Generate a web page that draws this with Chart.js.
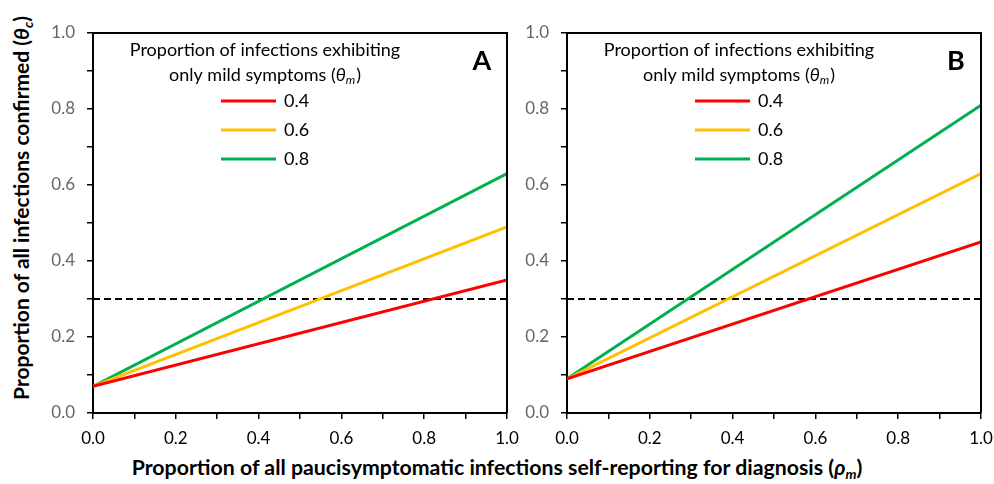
<!DOCTYPE html>
<html>
<head>
<meta charset="utf-8">
<script src="https://cdn.jsdelivr.net/npm/chart.js@4"></script>
<style>
  html, body { margin:0; padding:0; background:#fff; }
  body { width:994px; height:484px; position:relative; overflow:hidden; font-family:Lato, "Open Sans", sans-serif; }
  canvas { position:absolute; top:0; }
  #ytitle { position:absolute; left:22px; top:208px; transform:translate(-50%,-50%) rotate(-90deg); white-space:nowrap; font-weight:bold; font-size:21px; color:#000; }
  #xtitle { position:absolute; left:497px; top:468px; transform:translate(-50%,-50%); white-space:nowrap; font-weight:bold; font-size:21.3px; color:#000; }
  sub { font-size:65%; vertical-align:-0.3em; }
</style>
</head>
<body>
<canvas id="cA" width="480" height="450" style="left:40px"></canvas>
<canvas id="cB" width="480" height="450" style="left:514px"></canvas>
<div id="ytitle">Proportion of all infections confirmed (<i>θ<sub>c</sub></i>)</div>
<div id="xtitle">Proportion of all paucisymptomatic infections self-reporting for diagnosis (<i>ρ<sub>m</sub></i>)</div>
<script>
// ---- data ----
const rho = [0, 1];                       // x values (proportion self-reporting)
const thetaMLabels = ['0.4', '0.6', '0.8'];
const panelA_04 = [0.07, 0.35];
const panelA_06 = [0.07, 0.49];
const panelA_08 = [0.07, 0.63];
const panelB_04 = [0.09, 0.45];
const panelB_06 = [0.09, 0.63];
const panelB_08 = [0.09, 0.81];
const threshold = [0.3, 0.3];
const panelLetters = ['A', 'B'];
const seriesColors = ['#FF0000', '#FFC000', '#00B050'];

const FONT = 'Lato, "Open Sans", sans-serif';

function pts(ys) { return rho.map((x, i) => ({ x: x, y: ys[i] })); }

const boxAndLegend = {
  id: 'boxAndLegend',
  afterDatasetsDraw(chart) {
    const ctx = chart.ctx;
    const a = chart.chartArea;
    ctx.save();
    // top and right border
    ctx.strokeStyle = '#000';
    ctx.lineWidth = 2;
    ctx.beginPath();
    ctx.moveTo(a.left, a.top);
    ctx.lineTo(a.right, a.top);
    ctx.lineTo(a.right, a.bottom);
    ctx.stroke();

    // legend title
    const cx = 225;
    ctx.fillStyle = '#000';
    ctx.textBaseline = 'middle';
    ctx.textAlign = 'center';
    ctx.font = '18px ' + FONT;
    ctx.fillText('Proportion of infections exhibiting', cx, 50);
    const p1 = 'only mild symptoms (';
    const p3 = ')';
    ctx.font = '18px ' + FONT;
    const w1 = ctx.measureText(p1).width;
    const w3 = ctx.measureText(p3).width;
    ctx.font = 'italic 18px ' + FONT;
    const w2 = ctx.measureText('θ').width;
    ctx.font = 'italic 12px ' + FONT;
    const w2s = ctx.measureText('m').width;
    const total = w1 + w2 + w2s + w3 + 1;
    let x = cx - total / 2;
    ctx.textAlign = 'left';
    ctx.font = '18px ' + FONT;
    ctx.fillText(p1, x, 75); x += w1;
    ctx.font = 'italic 18px ' + FONT;
    ctx.fillText('θ', x, 75); x += w2;
    ctx.font = 'italic 12px ' + FONT;
    ctx.fillText('m', x, 80); x += w2s + 1;
    ctx.font = '18px ' + FONT;
    ctx.fillText(p3, x, 75);

    // legend entries
    const rows = [101, 130, 159];
    chart.data.datasets.forEach((ds, i) => {
      if (i > 2) return;
      ctx.strokeStyle = ds.borderColor;
      ctx.lineWidth = 3;
      ctx.beginPath();
      ctx.moveTo(181, rows[i]);
      ctx.lineTo(236, rows[i]);
      ctx.stroke();
      ctx.fillStyle = '#000';
      ctx.font = '18px ' + FONT;
      ctx.textAlign = 'left';
      ctx.fillText(ds.label, 244, rows[i]);
    });

    // panel letter
    ctx.font = 'bold 27px ' + FONT;
    ctx.textAlign = 'center';
    ctx.fillStyle = '#000';
    ctx.fillText(chart.options.plugins.panelLetter, 442, 61);
    ctx.restore();
  }
};

function makeChart(id, letter, s04, s06, s08) {
  const series = [s04, s06, s08];
  const datasets = series.map((s, i) => ({
    label: thetaMLabels[i],
    data: pts(s),
    borderColor: seriesColors[i],
    backgroundColor: seriesColors[i],
    borderWidth: 3,
    pointRadius: 0,
    fill: false,
    tension: 0
  }));
  datasets.push({
    label: 'threshold',
    data: pts(threshold),
    borderColor: '#000',
    borderWidth: 1.8,
    borderDash: [7, 4],
    pointRadius: 0,
    fill: false,
    order: 10
  });
  return new Chart(document.getElementById(id), {
    type: 'line',
    data: { datasets: datasets },
    options: {
      responsive: false,
      animation: false,
      layout: { padding: { top: 33, right: 13, left: 0, bottom: 0 } },
      plugins: { legend: { display: false }, tooltip: { enabled: false }, panelLetter: letter },
      scales: {
        x: {
          type: 'linear', min: 0, max: 1,
          border: { display: true, color: '#000', width: 2 },
          grid: { drawOnChartArea: false, drawTicks: true, tickLength: 6, color: '#000', lineWidth: 1.5 },
          ticks: {
            stepSize: 0.1, color: '#000', padding: 9, maxRotation: 0,
            font: { family: FONT, size: 17 },
            callback: v => (Math.round(v * 10) % 2 === 0 ? v.toFixed(1) : '')
          },
          afterFit: s => { s.height = 37; s.paddingLeft = 0; s.paddingRight = 0; }
        },
        y: {
          type: 'linear', min: 0, max: 1,
          border: { display: true, color: '#000', width: 2 },
          grid: { drawOnChartArea: false, drawTicks: true, tickLength: 6, color: '#000', lineWidth: 1.5 },
          ticks: {
            stepSize: 0.1, color: '#666666', padding: 12,
            font: { family: FONT, size: 17 },
            callback: v => (Math.round(v * 10) % 2 === 0 ? v.toFixed(1) : '')
          },
          afterFit: s => { s.width = 53; s.paddingTop = 0; s.paddingBottom = 0; }
        }
      }
    },
    plugins: [boxAndLegend]
  });
}

makeChart('cA', panelLetters[0], panelA_04, panelA_06, panelA_08);
makeChart('cB', panelLetters[1], panelB_04, panelB_06, panelB_08);
</script>
</body>
</html>
